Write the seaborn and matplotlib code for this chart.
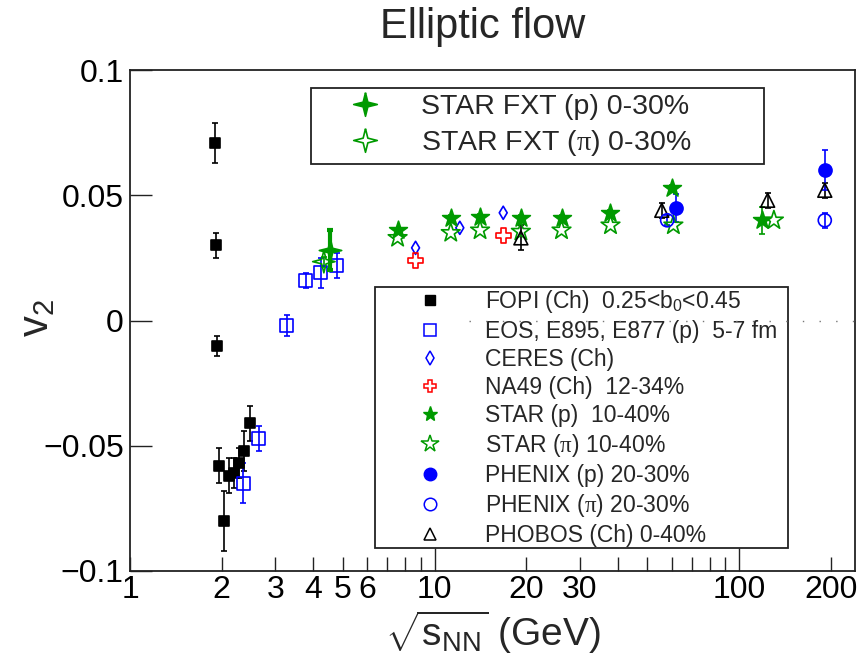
import numpy as np
import pandas as pd
import matplotlib
matplotlib.use("Agg")
import matplotlib.pyplot as plt
import seaborn as sns
from matplotlib.lines import Line2D
from matplotlib.ticker import FixedLocator, FixedFormatter

# ---------------- data ----------------
fopi_x = [1.90, 1.91, 1.93, 1.96, 2.03, 2.11, 2.19, 2.28, 2.36, 2.47]
fopi_y = [0.071, 0.030, -0.010, -0.058, -0.080, -0.062, -0.061, -0.057, -0.052, -0.041]
fopi_e = [0.008, 0.005, 0.004, 0.007, 0.012, 0.007, 0.006, 0.006, 0.008, 0.007]

eos_x = [2.35, 2.65, 3.27, 3.78, 4.23, 4.77]
eos_y = [-0.065, -0.047, -0.002, 0.016, 0.019, 0.022]
eos_e = [0.008, 0.005, 0.004, 0.003, 0.006, 0.005]

fxtp_x = [4.52]
fxtp_y = [0.028]
fxtp_e = [0.008]

fxtpi_x = [4.33]
fxtpi_y = [0.0235]
fxtpi_e = [0.002]

starp_x = [7.56, 11.3, 14.1, 19.2, 26.1, 37.8, 60.0, 119.0]
starp_y = [0.036, 0.041, 0.0415, 0.041, 0.041, 0.043, 0.053, 0.040]
starp_e = [0.001, 0.001, 0.001, 0.001, 0.001, 0.001, 0.001, 0.0055]

starpi_x = [7.56, 11.3, 14.1, 19.2, 26.1, 37.8, 60.8, 130.0]
starpi_y = [0.033, 0.035, 0.036, 0.0355, 0.036, 0.038, 0.038, 0.040]

ceres_x = [8.66, 12.1, 16.8]
ceres_y = [0.029, 0.037, 0.043]

na49_x = [8.66, 16.8]
na49_y = [0.024, 0.034]

phobos_x = [19.2, 55.7, 124.0, 191.0]
phobos_y = [0.033, 0.044, 0.048, 0.052]
phobos_e = [0.005, 0.003, 0.003, 0.003]

phenixp_x = [62.0, 191.0]
phenixp_y = [0.045, 0.060]
phenixp_e = [0.0055, 0.008]

phenixpi_x = [58.0, 191.0]
phenixpi_y = [0.040, 0.040]
phenixpi_e = [0.002, 0.003]

legend_top_labels = [r"STAR FXT (p) 0-30%", r"STAR FXT ($\mathrm{\pi}$) 0-30%"]
legend_main_labels = [
    r"FOPI (Ch)  0.25<b$_\mathsf{0}$<0.45",
    r"EOS, E895, E877 (p)  5-7 fm",
    r"CERES (Ch)",
    r"NA49 (Ch)  12-34%",
    r"STAR (p)  10-40%",
    r"STAR ($\mathrm{\pi}$) 10-40%",
    r"PHENIX (p) 20-30%",
    r"PHENIX ($\mathrm{\pi}$) 20-30%",
    r"PHOBOS (Ch) 0-40%",
]
yticks = [-0.1, -0.05, 0.0, 0.05, 0.1]
ytick_labels = ["\u22120.1", "\u22120.05", "0", "0.05", "0.1"]
xmajor = [10, 100]
xmajor_labels = ["10", "100"]
xminor = [1, 2, 3, 4, 5, 6, 7, 8, 9, 20, 30, 40, 50, 60, 70, 80, 90, 200]
xminor_labels = ["1", "2", "3", "4", "5", "6", "", "", "", "20", "30", "", "", "", "", "", "", "200"]

# ---------------- style ----------------
sns.set_theme(style="white")
plt.rcParams["font.family"] = ["Liberation Sans", "DejaVu Sans"]
plt.rcParams["mathtext.fontset"] = "custom"
plt.rcParams["mathtext.rm"] = "Liberation Serif"
plt.rcParams["mathtext.sf"] = "Liberation Sans"
plt.rcParams["mathtext.it"] = "Liberation Sans:italic"

GREEN = "#009a00"
BLUE = "#0000ff"
RED = "#ff0000"
BLACK = "#000000"

# 4-pointed star marker
ang = np.deg2rad(90 + np.arange(8) * 45.0)
rad = np.where(np.arange(8) % 2 == 0, 1.0, 0.28)
star4 = list(zip(rad * np.cos(ang), rad * np.sin(ang)))
star4.append(star4[0])

fig = plt.figure(figsize=(8.65, 6.58), dpi=100)
ax = fig.add_axes([130 / 865, 1 - 571 / 658, 725 / 865, 501 / 658])


def series(x, y, e=None):
    d = pd.DataFrame({"x": x, "y": y})
    d["e"] = e if e is not None else 0.0
    return d


def draw(d, marker, s, color, filled, lw=1.2, z=3, ecol=None, elw=1.2):
    if (d["e"] > 0).any():
        ax.errorbar(d["x"], d["y"], yerr=d["e"], fmt="none", ecolor=ecol or color,
                    elinewidth=elw, capsize=2.0, capthick=elw, zorder=z - 0.5)
    sns.scatterplot(data=d, x="x", y="y", marker=marker, s=s, color=color,
                    edgecolor=color, facecolor=color if filled else "none",
                    linewidth=lw, ax=ax, legend=False, zorder=z)


draw(series(fopi_x, fopi_y, fopi_e), "s", 52, BLACK, True)
draw(series(eos_x, eos_y, eos_e), "s", 88, BLUE, False)
draw(series(ceres_x, ceres_y), "d", 45, BLUE, False)
draw(series(na49_x, na49_y), "P", 110, RED, False)
draw(series(starpi_x, starpi_y), "*", 200, GREEN, False)
draw(series(starp_x, starp_y, starp_e), "*", 180, GREEN, True)
draw(series(phobos_x, phobos_y, phobos_e), "^", 100, BLACK, False)
draw(series(phenixpi_x, phenixpi_y, phenixpi_e), "o", 88, BLUE, False)
draw(series(phenixp_x, phenixp_y, phenixp_e), "o", 88, BLUE, True)
draw(series(fxtpi_x, fxtpi_y, fxtpi_e), star4, 260, GREEN, False)
draw(series(fxtp_x, fxtp_y, fxtp_e), star4, 260, GREEN, True, elw=3.0, z=4)

# axes
ax.set_xscale("log")
ax.set_xlim(1, 240)
ax.set_ylim(-0.1, 0.1)
ax.xaxis.set_major_locator(FixedLocator(xmajor))
ax.xaxis.set_major_formatter(FixedFormatter(xmajor_labels))
ax.xaxis.set_minor_locator(FixedLocator(xminor))
ax.xaxis.set_minor_formatter(FixedFormatter(xminor_labels))
ax.set_yticks(yticks)
ax.set_yticklabels(ytick_labels)
ax.tick_params(axis="x", which="major", direction="in", length=16.5, width=1.0,
               top=False, bottom=True, labelsize=23, pad=3, colors="#222222", labelcolor="black")
ax.tick_params(axis="x", which="minor", direction="in", length=10, width=1.0,
               top=False, bottom=True, labelsize=23, pad=3, colors="#222222", labelcolor="black")
ax.tick_params(axis="y", which="major", direction="in", length=16, width=1.0,
               left=True, right=False, labelsize=23, pad=4.5, colors="#222222", labelcolor="black")
for sp in ax.spines.values():
    sp.set_linewidth(1.3)
    sp.set_color("#222222")

ax.set_xlabel(r"$\sqrt{\mathsf{s}_{\mathsf{NN}}}$ (GeV)", fontsize=28)
ax.xaxis.set_label_coords(0.50, -0.122)
ax.xaxis.label.set_va("center")
ax.set_ylabel(r"v$_\mathsf{2}$", fontsize=30)
ax.yaxis.set_label_coords(-0.128, 0.505)
ax.yaxis.label.set_va("center")

fig.text(483 / 865, 1 - 27 / 658, "Elliptic flow", fontsize=30, ha="center", va="center")

# legends
h_top = [
    Line2D([], [], marker=star4, ls="none", ms=17, mfc=GREEN, mec=GREEN, mew=1.2),
    Line2D([], [], marker=star4, ls="none", ms=17, mfc="none", mec=GREEN, mew=1.2),
]
leg1 = ax.legend(h_top, legend_top_labels, loc="upper left",
                 bbox_to_anchor=(0.2497, 0.8144, 0.6248, 0.1497), mode="expand",
                 borderaxespad=0, fontsize=20.5, frameon=True, fancybox=False,
                 edgecolor="#222222", framealpha=1, handlelength=3.36, handletextpad=0.27,
                 borderpad=0.22, labelspacing=0.26)
leg1.get_frame().set_linewidth(1.3)
ax.add_artist(leg1)

h_main = [
    Line2D([], [], marker="s", ls="none", ms=7, mfc=BLACK, mec=BLACK, mew=1.0),
    Line2D([], [], marker="s", ls="none", ms=8.5, mfc="none", mec=BLUE, mew=1.1),
    Line2D([], [], marker="d", ls="none", ms=7, mfc="none", mec=BLUE, mew=1.1),
    Line2D([], [], marker="P", ls="none", ms=9, mfc="none", mec=RED, mew=1.1),
    Line2D([], [], marker="*", ls="none", ms=11, mfc=GREEN, mec=GREEN, mew=1.0),
    Line2D([], [], marker="*", ls="none", ms=13, mfc="none", mec=GREEN, mew=1.1),
    Line2D([], [], marker="o", ls="none", ms=9, mfc=BLUE, mec=BLUE, mew=1.0),
    Line2D([], [], marker="o", ls="none", ms=9, mfc="none", mec=BLUE, mew=1.1),
    Line2D([], [], marker="^", ls="none", ms=8.5, mfc="none", mec=BLACK, mew=1.1),
]
leg2 = ax.legend(h_main, legend_main_labels, loc="upper left",
                 bbox_to_anchor=(0.3379, 0.0479, 0.5697, 0.519), mode="expand",
                 borderaxespad=0, fontsize=16.5, frameon=True, fancybox=False,
                 edgecolor="#222222", framealpha=1, handlelength=4.7, handletextpad=0.06,
                 borderpad=0.05, labelspacing=0.215)
leg2.get_frame().set_linewidth(1.3)
leg2.set_zorder(5)

ax.hlines(0.0, 13, 240, colors="#777777", linestyles=(0, (1, 11)), linewidth=1.0, zorder=6)

fig.savefig("out.png", dpi=100)
